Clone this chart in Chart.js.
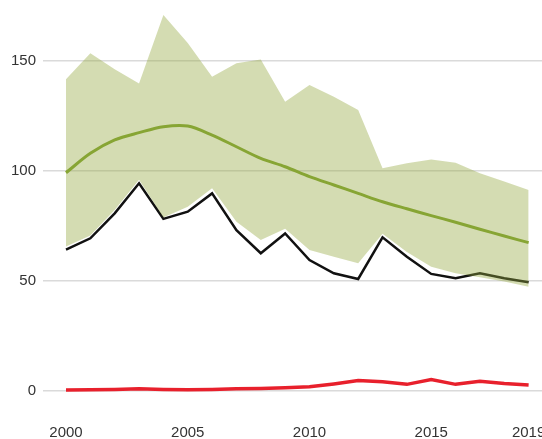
<!DOCTYPE html>
<html>
<head>
<meta charset="utf-8">
<script src="https://cdn.jsdelivr.net/npm/chart.js@4.4.1/dist/chart.umd.min.js"></script>
<style>
    body { margin: 0; overflow: hidden; background: white; }
    #wrap { width: 580px; height: 439px; position: relative; }
</style>
</head>
<body>
<div id="wrap"><canvas id="mainChart"></canvas></div>
<script>
const years = [2000, 2001, 2002, 2003, 2004, 2005, 2006, 2007, 2008, 2009,
               2010, 2011, 2012, 2013, 2014, 2015, 2016, 2017, 2018, 2019];
const observed = [64, 69.2, 80.5, 94.2, 78, 81.3, 89.6, 72.9, 62.4, 71.4,
                  59.3, 53.3, 50.7, 69.6, 60.8, 53, 51, 53.3, 51, 49.2];
const trend = [99, 107.8, 113.9, 117.2, 119.9, 120.2, 116.1, 110.8, 105.5, 101.7,
               97.2, 93.4, 89.6, 85.8, 82.6, 79.5, 76.5, 73.3, 70.2, 67.2];
const bandHigh = [141.5, 153.3, 146, 139.6, 170.7, 158, 142.6, 148.7, 150.5, 131.3,
                  138.9, 133.5, 127.5, 101, 103.3, 105, 103.5, 98.7, 95, 91.1];
const bandLow = [65.5, 70.5, 82, 95.8, 78.6, 83.5, 91.9, 76.7, 68.4, 73.5,
                 63.9, 60.8, 57.8, 71.2, 63, 56.3, 53.3, 51.5, 49.5, 47.2];
const redSeries = [0.2, 0.3, 0.5, 0.8, 0.5, 0.4, 0.5, 0.8, 0.9, 1.2,
                   1.7, 3, 4.5, 4, 2.8, 5, 2.8, 4.2, 3.2, 2.5];
const xTicks = [2000, 2005, 2010, 2015, 2019];
const yTicks = [0, 50, 100, 150];

const font = { family: "'Liberation Sans Narrow', 'Liberation Sans', Arial, sans-serif", size: 15 };

function pts(values) {
    return values.map((v, i) => ({ x: years[i], y: v }));
}

// drop the label padding Chart.js adds around the chart area
function noPad(s) {
    s.paddingTop = 0;
    s.paddingBottom = 0;
    s.paddingLeft = 0;
    s.paddingRight = 0;
}

const mainChart = new Chart("mainChart", {
    type: "line",
    data: {
        datasets: [
            {
                label: "Trend",
                data: pts(trend),
                borderColor: "#87a534",
                borderWidth: 3,
                tension: 0.3,
                order: 0
            },
            {
                label: "Range high",
                data: pts(bandHigh),
                borderWidth: 0,
                borderColor: "rgba(0,0,0,0)",
                backgroundColor: "rgba(147, 167, 62, 0.4)",
                fill: { target: 2 },
                order: 1
            },
            {
                label: "Range low",
                data: pts(bandLow),
                borderWidth: 0,
                borderColor: "rgba(0,0,0,0)",
                fill: false,
                order: 1
            },
            {
                label: "Observed",
                data: pts(observed),
                borderColor: "#111111",
                borderWidth: 2.5,
                order: 2
            },
            {
                label: "Red",
                data: pts(redSeries),
                borderColor: "#e8202c",
                borderWidth: 3.5,
                order: 0
            }
        ]
    },
    options: {
        responsive: true,
        maintainAspectRatio: false,
        animation: false,
        elements: { point: { radius: 0 } },
        layout: { padding: 0 },
        plugins: {
            legend: { display: false },
            tooltip: { enabled: false }
        },
        scales: {
            x: {
                type: "linear",
                min: 1999.0555,
                max: 2021.11,
                grid: { display: false },
                border: { display: false },
                afterFit: (s) => { s.height = 27; noPad(s); },
                afterBuildTicks: (s) => { s.ticks = xTicks.map(v => ({ value: v })); },
                ticks: {
                    padding: 4,
                    color: "#333333",
                    font: font,
                    maxRotation: 0,
                    autoSkip: false,
                    callback: (v) => String(v)
                }
            },
            y: {
                min: -9.77,
                max: 177.5,
                grid: { color: "#dadada", lineWidth: 1.5, drawTicks: false },
                border: { display: false },
                afterFit: (s) => { s.width = 43; noPad(s); },
                afterBuildTicks: (s) => { s.ticks = yTicks.map(v => ({ value: v })); },
                ticks: {
                    padding: 7,
                    color: "#333333",
                    font: font
                }
            }
        }
    }
});
</script>
</body>
</html>
